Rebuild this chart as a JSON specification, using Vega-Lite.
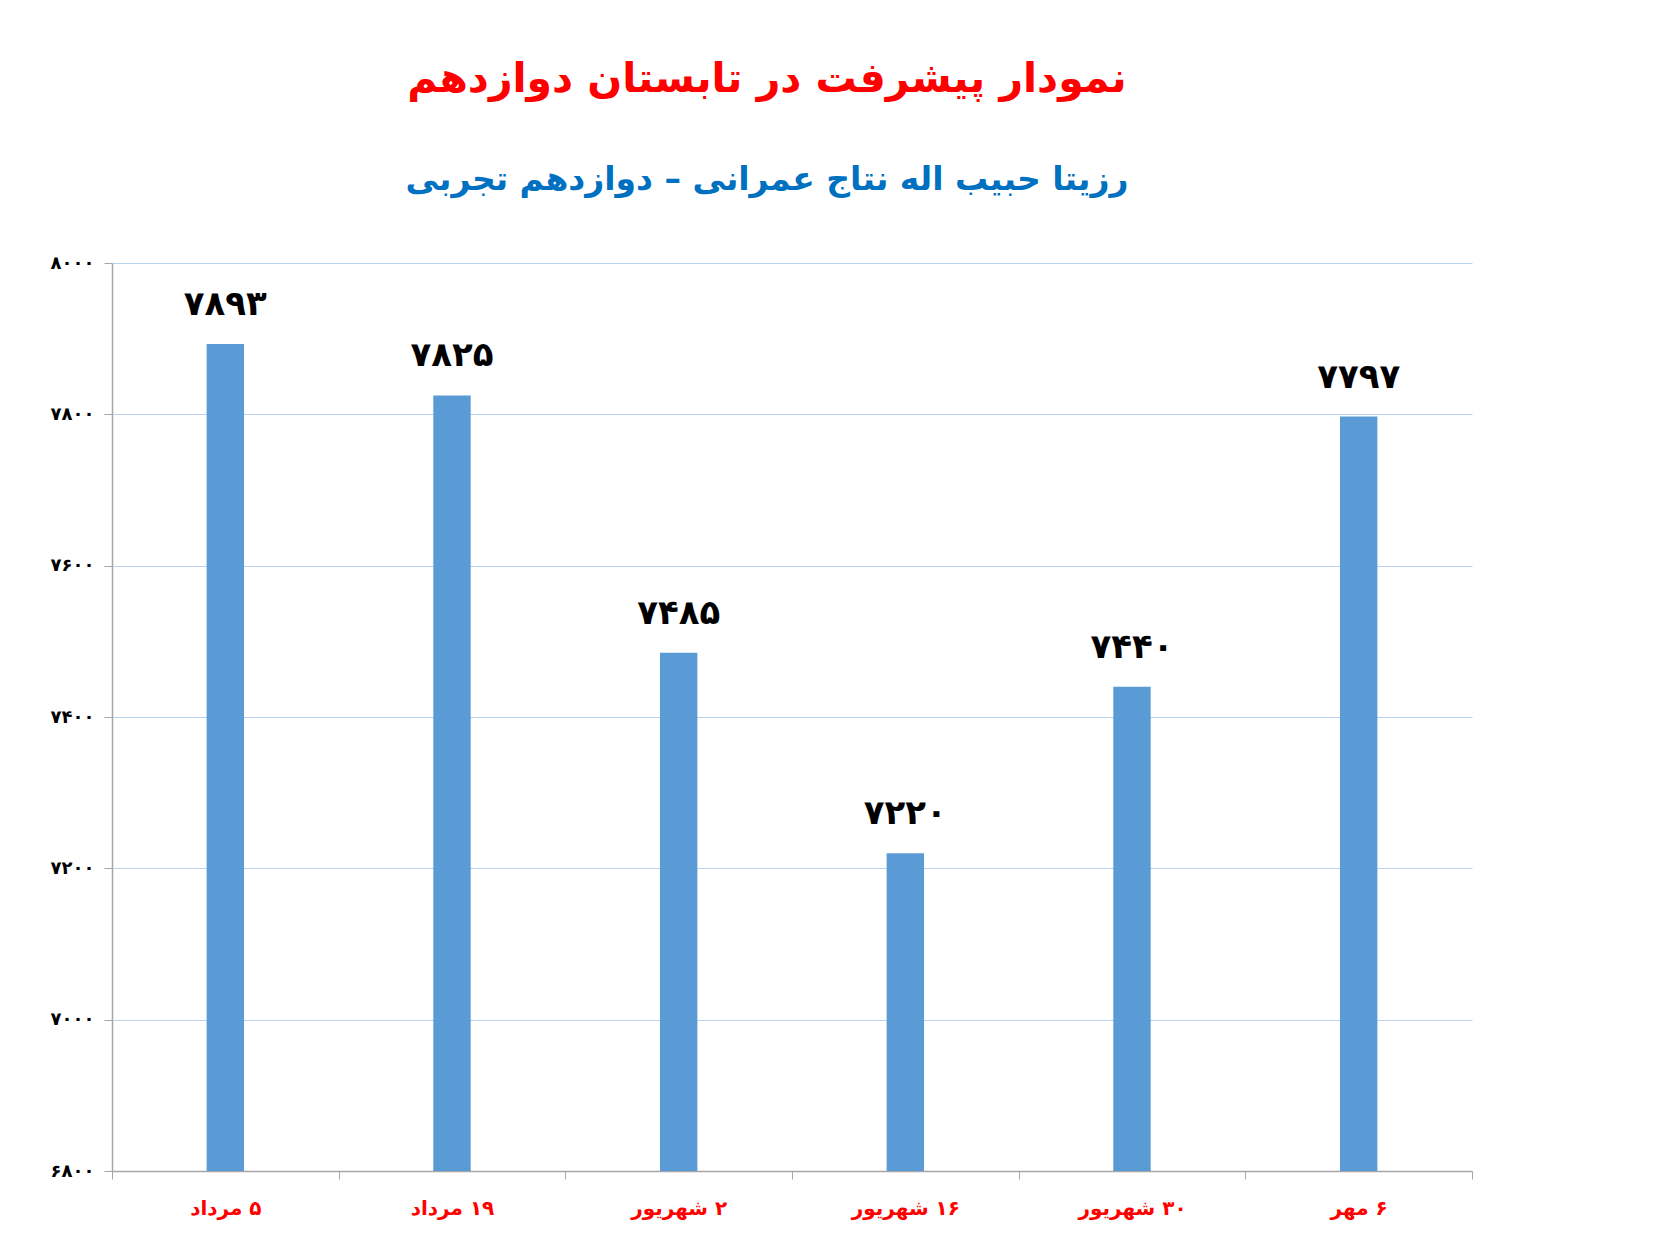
{
  "$schema": "https://vega.github.io/schema/vega-lite/v6.json",
  "autosize": {"type": "none"},
  "width": 1360,
  "height": 908,
  "padding": {"left": 112, "top": 263, "right": 200, "bottom": 83},
  "background": "white",
  "title": {
    "text": "نمودار پیشرفت در تابستان دوازدهم",
    "subtitle": "رزیتا حبیب اله نتاج عمرانی – دوازدهم تجربی",
    "anchor": "middle",
    "dx": -25,
    "offset": 56,
    "font": "DejaVu Sans",
    "fontSize": 41,
    "fontWeight": "bold",
    "color": "#FF0000",
    "subtitleFont": "DejaVu Sans",
    "subtitleFontSize": 33,
    "subtitleFontWeight": "bold",
    "subtitleColor": "#0070C0",
    "subtitlePadding": 63
  },
  "data": {
    "values": [
      {"date": "‏۵ مرداد", "score": 7893, "label": "۷۸۹۳"},
      {"date": "‏۱۹ مرداد", "score": 7825, "label": "۷۸۲۵"},
      {"date": "‏۲ شهریور", "score": 7485, "label": "۷۴۸۵"},
      {"date": "‏۱۶ شهریور", "score": 7220, "label": "۷۲۲۰"},
      {"date": "‏۳۰ شهریور", "score": 7440, "label": "۷۴۴۰"},
      {"date": "‏۶ مهر", "score": 7797, "label": "۷۷۹۷"}
    ]
  },
  "config": {"view": {"stroke": null}},
  "encoding": {
    "x": {
      "field": "date",
      "type": "nominal",
      "sort": null,
      "scale": {"paddingInner": 0, "paddingOuter": 0},
      "axis": {
        "title": null,
        "labelAngle": 0,
        "labelFont": "DejaVu Sans",
        "labelFontSize": 20,
        "labelFontWeight": "bold",
        "labelColor": "#FF0000",
        "labelPadding": 19,
        "tickBand": "extent",
        "tickSize": 8,
        "tickColor": "#A6A6A6",
        "domainColor": "#A6A6A6",
        "domainWidth": 1.5,
        "grid": false
      }
    },
    "y": {
      "field": "score",
      "type": "quantitative",
      "scale": {"domain": [6800, 8000], "zero": false, "nice": false},
      "axis": {
        "title": null,
        "values": [6800, 7000, 7200, 7400, 7600, 7800, 8000],
        "labelExpr": "datum.value == 8000 ? '۸۰۰۰' : datum.value == 7800 ? '۷۸۰۰' : datum.value == 7600 ? '۷۶۰۰' : datum.value == 7400 ? '۷۴۰۰' : datum.value == 7200 ? '۷۲۰۰' : datum.value == 7000 ? '۷۰۰۰' : '۶۸۰۰'",
        "labelFont": "DejaVu Sans",
        "labelFontSize": 18,
        "labelFontWeight": "bold",
        "labelColor": "#000000",
        "labelPadding": 10,
        "tickSize": 8,
        "tickColor": "#A6A6A6",
        "domainColor": "#A6A6A6",
        "domainWidth": 1.5,
        "grid": true,
        "gridColor": "#B8D3F0",
        "gridWidth": 1.2
      }
    }
  },
  "layer": [
    {
      "mark": {"type": "bar", "color": "#5B9BD5", "width": {"band": 0.165}, "clip": true}
    },
    {
      "mark": {
        "type": "text",
        "baseline": "bottom",
        "dy": -22,
        "font": "DejaVu Sans",
        "fontSize": 34,
        "fontWeight": "bold",
        "color": "#000000"
      },
      "encoding": {"text": {"field": "label"}}
    }
  ]
}
